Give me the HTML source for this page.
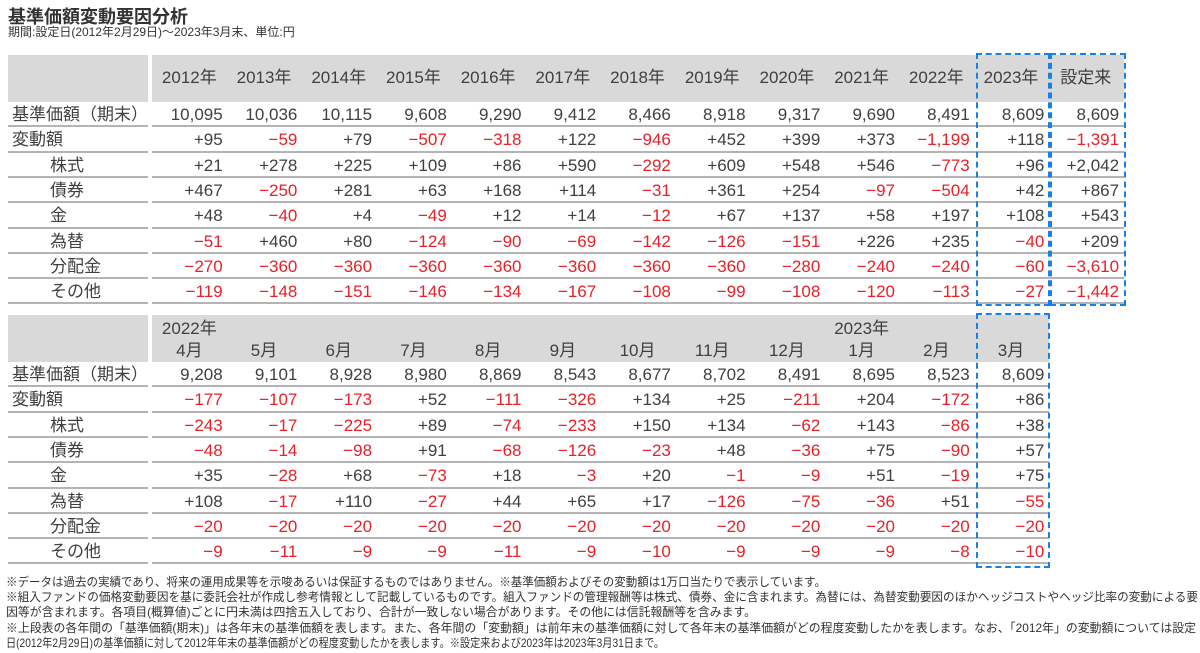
<!DOCTYPE html>
<html><head><meta charset="utf-8">
<style>
body{margin:0;width:1200px;height:653px;background:#fff;position:relative;overflow:hidden;font-family:"Liberation Sans","Noto Sans CJK JP",sans-serif;color:#404040}
.abs{position:absolute}
.title{left:8px;top:3px;font-size:18px;font-weight:bold;color:#333}
.sub{left:8px;top:23px;font-size:12px;color:#333}
.hdr{background:#d9d9d9}
.txt{font-size:17px;white-space:nowrap;line-height:25px}
.neg{color:#e62129}
.line{background:#b4b4b4;height:2px}
.box{border:2px dashed #1a80e6;box-sizing:border-box}
.note{font-size:12px;white-space:nowrap;transform-origin:0 0;color:#333;left:6px}
</style></head><body>
<div class="abs title">基準価額変動要因分析</div>
<div class="abs sub">期間:設定日(2012年2月29日)～2023年3月末、単位:円</div>
<div id="root"></div>
<div class="abs note" style="top:573px" data-w="820">※データは過去の実績であり、将来の運用成果等を示唆あるいは保証するものではありません。※基準価額およびその変動額は1万口当たりで表示しています。</div>
<div class="abs note" style="top:588px" data-w="1192">※組入ファンドの価格変動要因を基に委託会社が作成し参考情報として記載しているものです。組入ファンドの管理報酬等は株式、債券、金に含まれます。為替には、為替変動要因のほかヘッジコストやヘッジ比率の変動による要</div>
<div class="abs note" style="top:603px" data-w="750">因等が含まれます。各項目(概算値)ごとに円未満は四捨五入しており、合計が一致しない場合があります。その他には信託報酬等を含みます。</div>
<div class="abs note" style="top:619px" data-w="1190">※上段表の各年間の「基準価額(期末)」は各年末の基準価額を表します。また、各年間の「変動額」は前年末の基準価額に対して各年末の基準価額がどの程度変動したかを表します。なお、「2012年」の変動額については設定</div>
<div class="abs note" style="top:634px" data-w="658">日(2012年2月29日)の基準価額に対して2012年年末の基準価額がどの程度変動したかを表します。※設定来および2023年は2023年3月31日まで。</div>
<script>
const rowLabels=["基準価額（期末）","変動額","株式","債券","金","為替","分配金","その他"];
const yearCols=["2012年","2013年","2014年","2015年","2016年","2017年","2018年","2019年","2020年","2021年","2022年","2023年","設定来"];
const t1nav=[10095,10036,10115,9608,9290,9412,8466,8918,9317,9690,8491,8609,8609];
const t1chg=[95,-59,79,-507,-318,122,-946,452,399,373,-1199,118,-1391];
const t1stock=[21,278,225,109,86,590,-292,609,548,546,-773,96,2042];
const t1bond=[467,-250,281,63,168,114,-31,361,254,-97,-504,42,867];
const t1gold=[48,-40,4,-49,12,14,-12,67,137,58,197,108,543];
const t1fx=[-51,460,80,-124,-90,-69,-142,-126,-151,226,235,-40,209];
const t1dist=[-270,-360,-360,-360,-360,-360,-360,-360,-280,-240,-240,-60,-3610];
const t1other=[-119,-148,-151,-146,-134,-167,-108,-99,-108,-120,-113,-27,-1442];
const monthCols=["4月","5月","6月","7月","8月","9月","10月","11月","12月","1月","2月","3月"];
const monthYears=["2022年","","","","","","","","","2023年","",""];
const t2nav=[9208,9101,8928,8980,8869,8543,8677,8702,8491,8695,8523,8609];
const t2chg=[-177,-107,-173,52,-111,-326,134,25,-211,204,-172,86];
const t2stock=[-243,-17,-225,89,-74,-233,150,134,-62,143,-86,38];
const t2bond=[-48,-14,-98,91,-68,-126,-23,48,-36,75,-90,57];
const t2gold=[35,-28,68,-73,18,-3,20,-1,-9,51,-19,75];
const t2fx=[108,-17,110,-27,44,65,17,-126,-75,-36,51,-55];
const t2dist=[-20,-20,-20,-20,-20,-20,-20,-20,-20,-20,-20,-20];
const t2other=[-9,-11,-9,-9,-11,-9,-10,-9,-9,-9,-8,-10];

const root=document.getElementById('root');
const X0=152,CW=74.7,RH=25.3;
function mk(cls,l,t,w,h,txt){const d=document.createElement('div');d.className='abs '+cls;d.style.left=l+'px';d.style.top=t+'px';if(w!=null)d.style.width=w+'px';if(h!=null)d.style.height=h+'px';if(txt!=null)d.textContent=txt;root.appendChild(d);return d;}
function fmt(v,signed){const s=Math.abs(v).toLocaleString('en-US');if(!signed)return s;return (v<0?'−':'+')+s;}
function table(top,hdrH,cols,years,rows){
  const n=cols.length,right=X0+n*CW;
  let e=mk('hdr',8,top,140,hdrH);
  e=mk('hdr',X0,top,right-X0+1,hdrH);
  cols.forEach((c,i)=>{
    const ty=years?top+23:top+10;
    e=mk('txt',X0+i*CW,ty,CW,null,c);e.style.textAlign='center';
    
    if(years&&years[i]){e=mk('txt',X0+i*CW,top+1,CW,null,years[i]);e.style.textAlign='center';
      }
  });
  rows.forEach((r,ri)=>{
    const y=top+hdrH+ri*RH;
    e=mk('txt',ri<2?12:50,y,null,null,rowLabels[ri]);
    
    r.forEach((v,ci)=>{
      e=mk('txt'+(v<0?' neg':''),X0+ci*CW,y,CW-4,null,fmt(v,ri>0));e.style.textAlign='right';
      
    });
    e=mk('line',8,y+RH-2,140,null);
    e=mk('line',X0,y+RH-2,right-X0+1,null);
  });
}
table(55,47,yearCols,null,[t1nav,t1chg,t1stock,t1bond,t1gold,t1fx,t1dist,t1other]);
table(315,47,monthCols,monthYears,[t2nav,t2chg,t2stock,t2bond,t2gold,t2fx,t2dist,t2other]);
let b=mk('box',976,53,74,253);
b=mk('box',1050,53,76,253);
b=mk('box',976,313,74,255);
document.querySelectorAll('.note').forEach(n=>{const w=n.getBoundingClientRect().width;n.style.transform='scaleX('+(parseFloat(n.dataset.w)/w)+')';});
</script>
</body></html>
